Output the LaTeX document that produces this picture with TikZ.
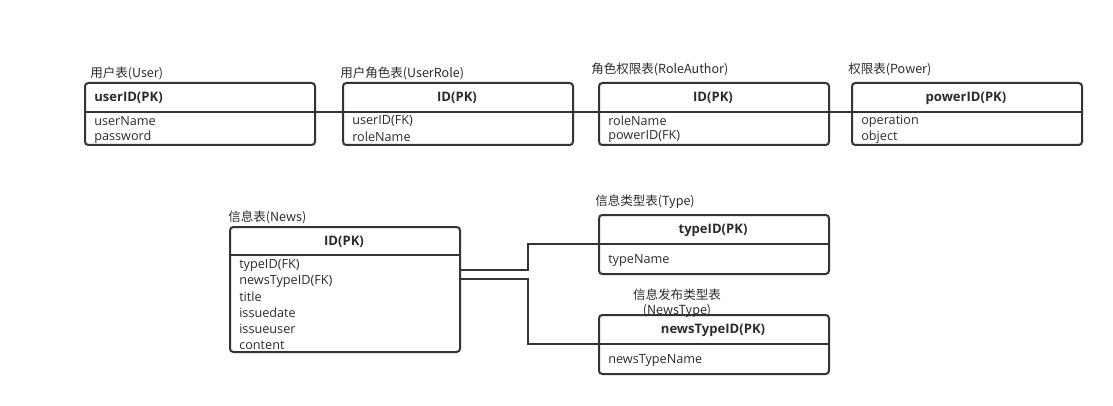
\documentclass[tikz,border=0pt]{standalone}
\usepackage{fontspec}
\setmainfont{Open Sans}
\newfontfamily\cjk{Noto Sans CJK SC}
\definecolor{linec}{HTML}{333333}
\definecolor{textc}{HTML}{2B2B2B}
\begin{document}
\begin{tikzpicture}[x=0.75pt,y=-0.75pt,
  tbl/.style={draw=linec, line width=1.5pt, rounded corners=2.5pt, inner sep=0pt, anchor=north west},
  divl/.style={draw=linec, line width=1.5pt},
  conn/.style={draw=linec, line width=1.5pt},
  lbl/.style={anchor=west, inner sep=0pt, text=textc, font=\cjk\fontsize{9.4pt}{11pt}\selectfont},
  fld/.style={anchor=west, inner sep=0pt, text=textc, font=\fontsize{9.5pt}{11pt}\selectfont},
  hdr/.style={inner sep=0pt, text=textc, font=\bfseries\fontsize{9.8pt}{11pt}\selectfont}]
\useasboundingbox (0,0) rectangle (1113,406);

% ---------- top row ----------
% User
\node[tbl, minimum width=230*0.75pt, minimum height=62*0.75pt] (user) at (84,82) {};
\coordinate (userDL) at (84,112); \coordinate (userDR) at (314,112);
\draw[divl] (userDL) -- (userDR);
\node[hdr, anchor=west] (userH) at (94,98) {userID(PK)};
\node[fld] (userF1) at (94,121) {userName};
\node[fld] (userF2) at (94,137) {password};
\node[lbl] (userL) at (90,73) {用户表(User)};

% UserRole
\node[tbl, minimum width=230*0.75pt, minimum height=62*0.75pt] (ur) at (342,82) {};
\coordinate (urDL) at (342,112); \coordinate (urDR) at (572,112);
\draw[divl] (urDL) -- (urDR);
\node[hdr] (urH) at (457,98) {ID(PK)};
\node[fld] (urF1) at (352,121) {userID(FK)};
\node[fld] (urF2) at (352,137) {roleName};
\node[lbl] (urL) at (340,73) {用户角色表(UserRole)};

% RoleAuthor
\node[tbl, minimum width=230*0.75pt, minimum height=62*0.75pt] (ra) at (598,82) {};
\coordinate (raDL) at (598,112); \coordinate (raDR) at (828,112);
\draw[divl] (raDL) -- (raDR);
\node[hdr] (raH) at (713,98) {ID(PK)};
\node[fld] (raF1) at (608,121) {roleName};
\node[fld] (raF2) at (608,137) {powerID(FK)};
\node[lbl] (raL) at (591,69) {角色权限表(RoleAuthor)};

% Power
\node[tbl, minimum width=230*0.75pt, minimum height=62*0.75pt] (pw) at (851,82) {};
\coordinate (pwDL) at (851,112); \coordinate (pwDR) at (1081,112);
\draw[divl] (pwDL) -- (pwDR);
\node[hdr] (pwH) at (966,98) {powerID(PK)};
\node[fld] (pwF1) at (861,121) {operation};
\node[fld] (pwF2) at (861,137) {object};
\node[lbl] (pwL) at (848,69) {权限表(Power)};

% top connectors
\draw[conn] (userDR) -- (urDL);
\draw[conn] (urDR) -- (raDL);
\draw[conn] (raDR) -- (pwDL);

% ---------- News ----------
\node[tbl, minimum width=230*0.75pt, minimum height=125*0.75pt] (news) at (229,226) {};
\coordinate (newsDL) at (229,255); \coordinate (newsDR) at (459,255);
\draw[divl] (newsDL) -- (newsDR);
\node[hdr] (newsH) at (344,242) {ID(PK)};
\node[fld] (newsF1) at (239,265) {typeID(FK)};
\node[fld] (newsF2) at (239,281) {newsTypeID(FK)};
\node[fld] (newsF3) at (239,297) {title};
\node[fld] (newsF4) at (239,313) {issuedate};
\node[fld] (newsF5) at (239,329) {issueuser};
\node[fld] (newsF6) at (239,345) {content};
\node[lbl] (newsL) at (228,217) {信息表(News)};
\coordinate (newsC1) at (459,270);
\coordinate (newsC2) at (459,279);

% Type
\node[tbl, minimum width=230*0.75pt, minimum height=59*0.75pt] (ty) at (598,214) {};
\coordinate (tyDL) at (598,244); \coordinate (tyDR) at (828,244);
\draw[divl] (tyDL) -- (tyDR);
\node[hdr] (tyH) at (713,230) {typeID(PK)};
\node[fld] (tyF1) at (608,260) {typeName};
\node[lbl] (tyL) at (595,202) {信息类型表(Type)};

% NewsType
\node[tbl, minimum width=230*0.75pt, minimum height=59*0.75pt] (nt) at (598,314) {};
\coordinate (ntDL) at (598,344); \coordinate (ntDR) at (828,344);
\draw[divl] (ntDL) -- (ntDR);
\node[hdr] (ntH) at (713,330) {newsTypeID(PK)};
\node[fld] (ntF1) at (608,360) {newsTypeName};
\node[lbl, anchor=center, align=center, font=\cjk\fontsize{9.4pt}{11.4pt}\selectfont] (ntL) at (677,303) {信息发布类型表\\(NewsType)};

% bottom connectors
\draw[conn] (newsC1) -- (528,270) -- (528,244) -- (tyDL);
\draw[conn] (newsC2) -- (528,279) -- (528,344) -- (ntDL);
\end{tikzpicture}
\end{document}
